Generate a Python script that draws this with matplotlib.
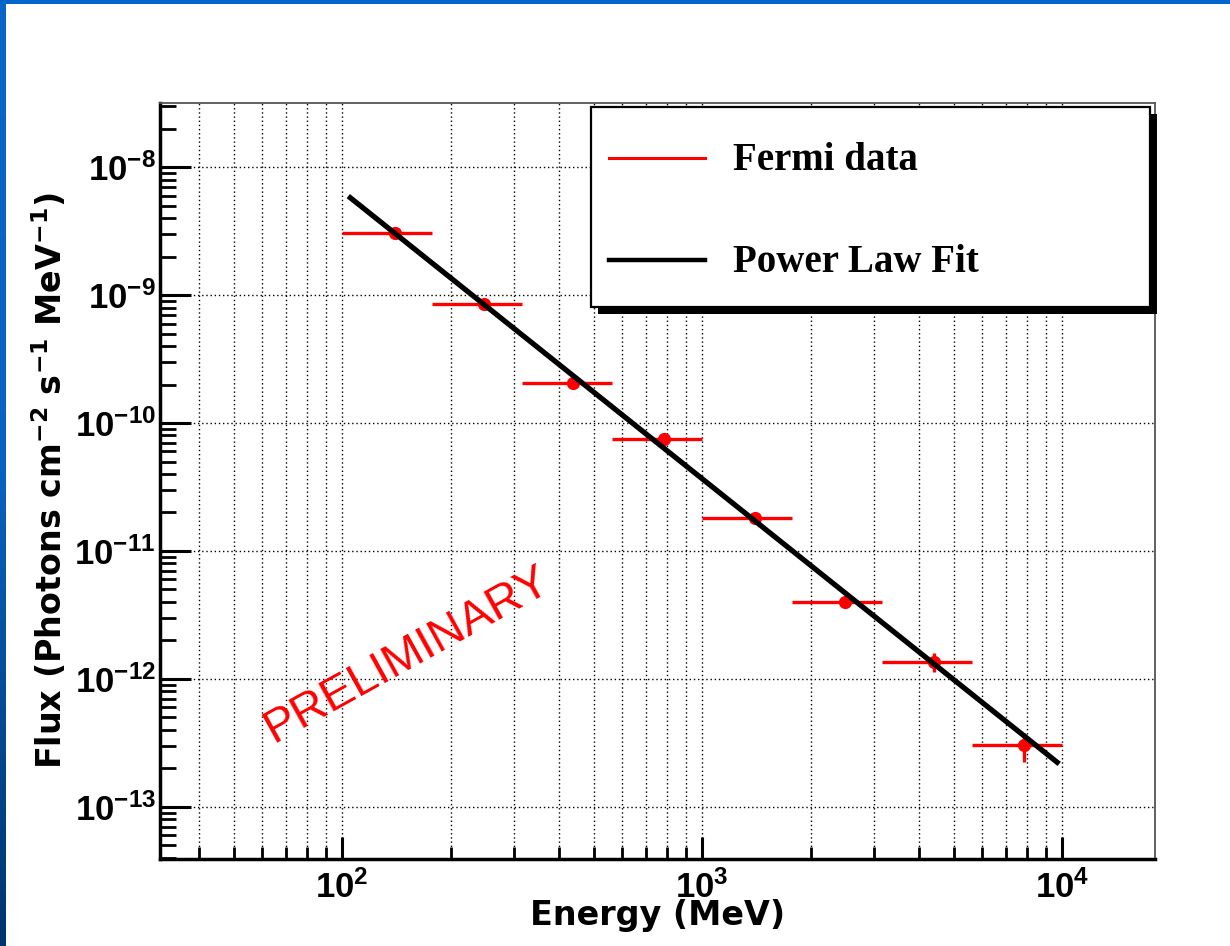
import numpy as np
import matplotlib
matplotlib.use('Agg')
import matplotlib.pyplot as plt
from matplotlib.ticker import LogLocator, FixedLocator, FuncFormatter, NullFormatter
from matplotlib.patches import Rectangle
from matplotlib.lines import Line2D

# Fermi spectral points (energy bins in MeV, flux in ph cm^-2 s^-1 MeV^-1)
e_lo = np.array([100, 178, 316, 562, 1000, 1778, 3162, 5623])
e_hi = np.array([178, 316, 562, 1000, 1778, 3162, 5623, 10000])
e_mid = np.array([140, 247, 439, 784, 1403, 2497, 4409, 7838])
flux = np.array([3.05e-9, 8.49e-10, 2.05e-10, 7.47e-11, 1.82e-11, 3.99e-12, 1.355e-12, 3.03e-13])
flux_up = np.array([3.15e-9, 8.8e-10, 2.12e-10, 7.8e-11, 1.9e-11, 4.35e-12, 1.60e-12, 3.79e-13])
flux_dn = np.array([2.95e-9, 8.2e-10, 1.98e-10, 7.15e-11, 1.74e-11, 3.65e-12, 1.14e-12, 2.25e-13])

# power law fit, drawn between its two end points
fit_e = np.array([104, 9810])
fit_flux = np.array([5.95e-9, 2.16e-13])

x_decades = [1e2, 1e3, 1e4]
y_decades = [1e-13, 1e-12, 1e-11, 1e-10, 1e-9, 1e-8]
legend_labels = ['Fermi data', 'Power Law Fit']

plt.rcParams['mathtext.fontset'] = 'custom'
plt.rcParams['mathtext.rm'] = 'Liberation Sans:bold'
plt.rcParams['mathtext.it'] = 'Liberation Sans:bold'
plt.rcParams['mathtext.bf'] = 'Liberation Sans:bold'
plt.rcParams['mathtext.sf'] = 'DejaVu Sans:bold'

W, H = 1230., 946.
fig = plt.figure(figsize=(W/100, H/100), dpi=100)
ax = fig.add_axes([160/W, 87/H, 995/W, 756/H])

ax.set_xscale('log')
ax.set_yscale('log')
ax.set_xlim(31.2, 18100)
ax.set_ylim(3.9e-14, 3.18e-8)

# data & fit
ax.errorbar(e_mid, flux, xerr=[e_mid - e_lo, e_hi - e_mid], yerr=[flux - flux_dn, flux_up - flux],
            fmt='o', color='red', ms=8.5, elinewidth=2.4, capsize=0, zorder=3)
ax.plot(fit_e, fit_flux, color='black', lw=3.8, solid_capstyle='butt', zorder=4)

# ticks and grid, ROOT style
fmt = FuncFormatter(lambda v, p: r'$10^{%d}$' % int(round(np.log10(v))))
ax.xaxis.set_major_locator(FixedLocator(x_decades))
ax.yaxis.set_major_locator(FixedLocator(y_decades))
for axis in [ax.xaxis, ax.yaxis]:
    axis.set_minor_locator(LogLocator(base=10, subs=np.arange(2, 10), numticks=40))
    axis.set_major_formatter(fmt)
    axis.set_minor_formatter(NullFormatter())

ax.tick_params(which='both', direction='in', top=False, right=False, color='black')
ax.tick_params(axis='y', which='major', length=22, width=2.2, labelsize=25, pad=3)
ax.tick_params(axis='y', which='minor', length=11.5, width=2.0)
ax.tick_params(axis='x', which='major', length=16, width=2.2, labelsize=25, pad=8)
ax.tick_params(axis='x', which='minor', length=8.5, width=2.0)

ax.set_axisbelow(True)
ax.grid(True, which='both', axis='x', color='black', ls=(0, (1, 2)), lw=1.0)
ax.grid(True, which='major', axis='y', color='black', ls=(0, (1, 2)), lw=1.0)

for s in ['left', 'bottom']:
    ax.spines[s].set_linewidth(2.5)
    ax.spines[s].set_color('black')
for s in ['top', 'right']:
    ax.spines[s].set_linewidth(1.3)
    ax.spines[s].set_color('#555555')

ax.set_xlabel('Energy (MeV)', fontsize=24, fontweight='bold', family='DejaVu Sans', va='center')
ax.xaxis.set_label_coords(0.5, (859 - 915) / 756.)
ax.set_ylabel(r'Flux (Photons cm$^{\mathsf{-2}}$ s$^{\mathsf{-1}}$ MeV$^{\mathsf{-1}}$)',
              fontsize=24, fontweight='bold', family='DejaVu Sans', va='center', ha='center')
ax.yaxis.set_label_coords((50 - 160) / 995., 0.5)

ax.text(0.248, 0.27, 'PRELIMINARY', transform=ax.transAxes, rotation=29, rotation_mode='anchor',
        color='red', fontsize=34, family='Liberation Sans', ha='center', va='center', zorder=5)

# legend box with ROOT-like shadow
def fx(px):
    return px / W

def fy(py):
    return 1 - py / H

fig.patches.append(Rectangle((fx(598), fy(314)), fx(1157) - fx(598), fy(114) - fy(314),
                             transform=fig.transFigure, facecolor='black', edgecolor='none', zorder=10))
fig.patches.append(Rectangle((fx(591), fy(307)), fx(1150) - fx(591), fy(107) - fy(307),
                             transform=fig.transFigure, facecolor='white', edgecolor='black', lw=1.6, zorder=11))
handles = [('red', 2.2, 158), ('black', 3.2, 260)]
for (c, lw, py), lab in zip(handles, legend_labels):
    fig.lines.append(Line2D([fx(609), fx(705)], [fy(py), fy(py)], transform=fig.transFigure,
                            color=c, lw=lw, zorder=12))
    fig.text(fx(733), fy(py + 2), lab, family='Liberation Serif', fontweight='bold', fontsize=28,
             va='center', ha='left', zorder=12)

# slide frame
fig.patches.append(Rectangle((0, fy(4)), 1, 4 / H, transform=fig.transFigure,
                             facecolor='#0066cc', edgecolor='none', zorder=20))
bax = fig.add_axes([0, 0, 6 / W, 1])
grad = np.linspace(0, 1, 256).reshape(-1, 1)
bax.imshow(grad, aspect='auto', cmap=matplotlib.colors.LinearSegmentedColormap.from_list(
    'slide', ['#0a66c8', '#0a62c0', '#00356e']), extent=[0, 1, 0, 1], origin='upper')
bax.axis('off')

fig.savefig('out.png', dpi=100)
